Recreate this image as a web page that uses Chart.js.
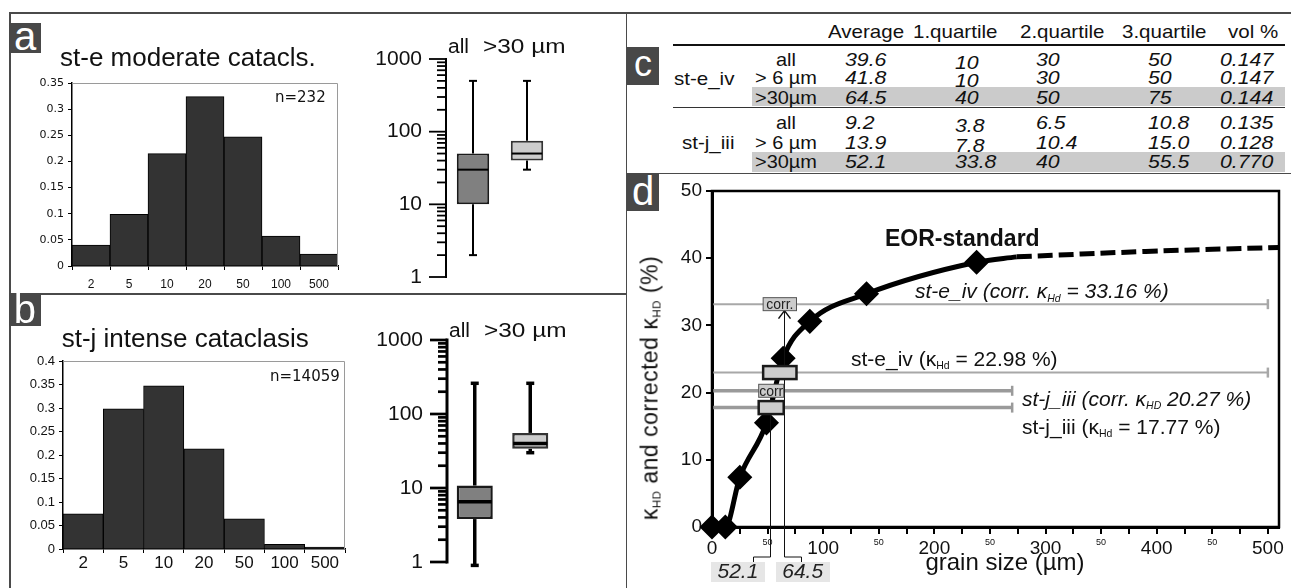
<!DOCTYPE html>
<html>
<head>
<meta charset="utf-8">
<script src="https://cdn.jsdelivr.net/npm/chart.js@4.4.1/dist/chart.umd.min.js"></script>
<style>
  body { margin: 0; background: #fff; }
  #fig { position: relative; width: 1291px; height: 588px; overflow: hidden;
         font-family: "Liberation Sans", Arial, sans-serif; color: #111; }
  #fig canvas { position: absolute; }
  .t { position: absolute; white-space: nowrap; }
  .r { position: absolute; }
  sub { font-size: 0.5em; vertical-align: baseline; position: relative; top: 0.3em; line-height: 0; }
</style>
</head>
<body>
<div id="fig"></div>
<script>
// ── Data ─────────────────────────────────────────────────────────────────────

// grain size classes (µm) and volume fractions
const BIN_LABELS = ['2', '5', '10', '20', '50', '100', '500'];
const FRAC_STE   = [0.040, 0.099, 0.215, 0.324, 0.247, 0.057, 0.023];
const FRAC_STJ   = [0.075, 0.298, 0.347, 0.213, 0.064, 0.010, 0.004];
const N_STE = 232;
const N_STJ = 14059;

// box plots: [min, q1, median, q3, max] in µm
const BOX_GROUPS = ['all', '>30 µm'];
const BOX_STE = [[2, 10, 30, 50, 500], [30, 40, 50, 75, 500]];
const BOX_STJ = [[0.9, 3.8, 6.5, 10.8, 260], [30, 33.8, 40, 55.5, 260]];
const LOG_DECADES = [1, 10, 100, 1000];
const LOG_MINOR   = [2, 3, 4, 5, 6, 7, 8, 9];

// statistics table
const TABLE_HEAD      = ['Average', '1.quartile', '2.quartile', '3.quartile', 'vol %'];
const TABLE_SAMPLES   = ['st-e_iv', 'st-j_iii'];
const TABLE_FRACTIONS = ['all', '> 6 µm', '>30µm'];
const TABLE_STE = [['39.6', '10', '30', '50', '0.147'],
                   ['41.8', '10', '30', '50', '0.147'],
                   ['64.5', '40', '50', '75', '0.144']];
const TABLE_STJ = [['9.2', '3.8', '6.5', '10.8', '0.135'],
                   ['13.9', '7.8', '10.4', '15.0', '0.128'],
                   ['52.1', '33.8', '40', '55.5', '0.770']];

// EOR standard curve: kappa_HD (%) against grain size (µm)
const EOR_X     = [0, 12, 25, 49, 64, 88, 139, 238, 274];
const EOR_Y     = [0, 0, 7.4, 15.5, 25.1, 30.6, 34.7, 39.4, 40.2];
const EOR_EXT_X = [274, 390, 510];
const EOR_EXT_Y = [40.2, 41.0, 41.6];

// kappa levels: st-e_iv corr., st-e_iv, st-j_iii corr., st-j_iii
const KAPPA     = [33.16, 22.98, 20.27, 17.77];
const KAPPA_END = [500, 500, 270, 270];
// >30 µm averages and grain boxes for st-e_iv, st-j_iii
const AVG30     = [64.5, 52.1];
const GRAIN_BOX = [[46, 76], [42, 64.5]];

const FONT = '"Liberation Sans", Arial, sans-serif';
const DEJAVU = '"DejaVu Sans", sans-serif';
Chart.defaults.font.family = FONT;
Chart.defaults.color = '#111';

const fig = document.getElementById('fig');

// ── Helpers ──────────────────────────────────────────────────────────────────

function rect(l, t, w, h, color) {
  const el = document.createElement('div');
  el.className = 'r';
  Object.assign(el.style, { left: l + 'px', top: t + 'px', width: w + 'px', height: h + 'px', background: color });
  fig.appendChild(el);
  return el;
}

// text placed by its baseline
function text(html, x, base, size, o = {}) {
  const el = document.createElement('div');
  el.className = 't';
  el.innerHTML = html;
  el.style.fontSize = size + 'px';
  el.style.lineHeight = size + 'px';
  el.style.top = (base - 0.847 * size) + 'px';
  el.style.left = x + 'px';
  if (o.font) el.style.fontFamily = o.font;
  if (o.italic) el.style.fontStyle = 'italic';
  if (o.bold) el.style.fontWeight = 'bold';
  if (o.color) el.style.color = o.color;
  if (o.ls) el.style.letterSpacing = o.ls + 'px';
  const align = o.align || 'left';
  const sx = o.sx || 1;
  const shift = align === 'center' ? '-50%' : align === 'right' ? '-100%' : '0';
  el.style.transformOrigin = align === 'center' ? '50% 50%' : align === 'right' ? '100% 50%' : '0 50%';
  el.style.transform = `translateX(${shift}) scaleX(${sx})`;
  fig.appendChild(el);
  return el;
}

function tag(letter, l, t, w, h, size, base) {
  rect(l, t, w, h, '#484848');
  text(letter, l + w / 2, base, size, { align: 'center', color: '#fff' });
}

function placeCanvas(area, m) {
  const c = document.createElement('canvas');
  const w = Math.round(area.r - area.l + m.l + m.r);
  const h = Math.round(area.b - area.t + m.t + m.b);
  c.width = w; c.height = h;
  c.style.left = (area.l - m.l) + 'px';
  c.style.top = (area.t - m.t) + 'px';
  c.style.width = w + 'px';
  c.style.height = h + 'px';
  fig.appendChild(c);
  return c;
}

const BASE_OPTS = {
  responsive: false,
  animation: false,
  devicePixelRatio: 1,
  events: [],
};

// ── Frame ────────────────────────────────────────────────────────────────────

rect(9, 12, 1282, 1.6, '#4a4a4a');
rect(9, 12, 1.6, 576, '#4a4a4a');
rect(625.5, 12, 1.6, 576, '#4a4a4a');
rect(9, 293, 617, 1.6, '#4a4a4a');
rect(626, 172.5, 665, 1.6, '#4a4a4a');

// ── Histograms (a, b) ────────────────────────────────────────────────────────

const histFrame = {
  id: 'histFrame',
  afterDraw(chart) {
    const { ctx, chartArea: a } = chart;
    ctx.save();
    ctx.strokeStyle = '#9a9a9a';
    ctx.lineWidth = 1;
    ctx.beginPath();
    ctx.moveTo(a.left, a.top + 0.5);
    ctx.lineTo(a.right - 0.5, a.top + 0.5);
    ctx.lineTo(a.right - 0.5, a.bottom);
    ctx.stroke();
    ctx.restore();
  }
};

function histogram(area, m, fracs, yMax, yFont, xFont, xPad) {
  return new Chart(placeCanvas(area, m), {
    type: 'bar',
    data: {
      labels: BIN_LABELS,
      datasets: [{
        data: fracs,
        backgroundColor: '#333333',
        borderColor: '#000',
        borderWidth: 1,
        barPercentage: 1,
        categoryPercentage: 1,
      }]
    },
    options: {
      ...BASE_OPTS,
      layout: { padding: { top: m.t, right: m.r, left: 0, bottom: 0 } },
      plugins: { legend: { display: false }, tooltip: { enabled: false } },
      scales: {
        x: {
          grid: { drawOnChartArea: false, offset: true, tickLength: 4, color: '#000' },
          border: { color: '#000', width: 1.5 },
          ticks: { font: xFont, color: '#111', padding: xPad, maxRotation: 0 },
          afterFit: s => { s.height = m.b; }
        },
        y: {
          min: 0, max: yMax,
          grid: { drawOnChartArea: false, tickLength: 4, color: '#000' },
          border: { color: '#000', width: 1.5 },
          ticks: { stepSize: 0.05, font: yFont, color: '#111', padding: 4, callback: v => String(+v.toFixed(2)) },
          afterFit: s => { s.width = m.l; }
        }
      }
    },
    plugins: [histFrame]
  });
}

histogram({ l: 71.7, t: 82.7, r: 337.3, b: 266 }, { l: 50, t: 14, r: 10, b: 26 },
  FRAC_STE, 0.35, { family: DEJAVU, size: 11 }, { size: 12 }, 7);
histogram({ l: 63.3, t: 361, r: 345, b: 549 }, { l: 52, t: 15, r: 10, b: 32 },
  FRAC_STJ, 0.4, { size: 13 }, { size: 17 }, 0);

// ── Box plots (a, b) ─────────────────────────────────────────────────────────

function whiskers(boxes, lw, cap, axisW) {
  return {
    id: 'whiskers',
    afterDatasetsDraw(chart) {
      const { ctx, scales: { y }, chartArea: a } = chart;
      const bars = chart.getDatasetMeta(0).data;
      const py = v => y.getPixelForValue(v);
      const seg = (x1, y1, x2, y2) => { ctx.beginPath(); ctx.moveTo(x1, y1); ctx.lineTo(x2, y2); ctx.stroke(); };
      ctx.save();
      ctx.strokeStyle = '#000';
      ctx.lineWidth = lw;
      boxes.forEach((b, i) => {
        const cx = bars[i].x, hw = bars[i].width / 2;
        seg(cx, py(b[0]), cx, py(b[1]));
        seg(cx, py(b[3]), cx, py(b[4]));
        seg(cx - cap, py(b[0]), cx + cap, py(b[0]));
        seg(cx - cap, py(b[4]), cx + cap, py(b[4]));
        seg(cx - hw + 1, py(b[2]), cx + hw - 1, py(b[2]));
      });
      // log axis: long decade ticks, short minor ticks
      ctx.lineWidth = axisW;
      const ax = a.left;
      seg(ax, py(1) + axisW / 2, ax, py(1000) - axisW / 2);
      ctx.lineWidth = axisW * 0.9;
      LOG_DECADES.forEach((d, k) => {
        seg(ax - 17, py(d), ax, py(d));
        if (k < LOG_DECADES.length - 1) LOG_MINOR.forEach(s => seg(ax - 9, py(d * s), ax, py(d * s)));
      });
      ctx.restore();
    }
  };
}

function boxplot(area, m, boxes, opt) {
  return new Chart(placeCanvas(area, m), {
    type: 'bar',
    data: {
      labels: BOX_GROUPS,
      datasets: [{
        data: boxes.map(b => [b[1], b[3]]),
        backgroundColor: ['#808080', '#cccccc'],
        borderColor: ['#1a1a1a', '#333333'],
        borderWidth: opt.bw,
        borderSkipped: false,
        barPercentage: opt.bp,
        categoryPercentage: 1,
      }]
    },
    options: {
      ...BASE_OPTS,
      layout: { padding: { top: m.t, right: m.r, left: 0, bottom: m.b } },
      plugins: { legend: { display: false }, tooltip: { enabled: false } },
      scales: {
        x: { display: false },
        y: {
          type: 'logarithmic', min: 1, max: 1000,
          grid: { display: false, drawTicks: false },
          border: { display: false },
          afterBuildTicks: s => { s.ticks = LOG_DECADES.map(v => ({ value: v })); },
          ticks: { autoSkip: false, font: { size: 21 }, color: '#111', padding: 24, callback: v => String(v) },
          afterFit: s => { s.width = m.l; }
        }
      }
    },
    plugins: [whiskers(boxes, opt.lw, opt.cap, opt.aw)]
  });
}

boxplot({ l: 446, t: 58.6, r: 554, b: 276.7 }, { l: 80, t: 40, r: 8, b: 40 }, BOX_STE,
  { bp: 0.6, bw: 2, lw: 2, cap: 4, aw: 2 });
boxplot({ l: 447.3, t: 340, r: 558.3, b: 561.7 }, { l: 80, t: 40, r: 8, b: 40 }, BOX_STJ,
  { bp: 0.65, bw: 2.5, lw: 3.5, cap: 4, aw: 3 });

// ── Table (c) ────────────────────────────────────────────────────────────────

rect(751.7, 87.3, 533, 18.7, '#cbcbcb');
rect(751.7, 151.7, 533, 20, '#cbcbcb');
rect(673, 44.3, 612, 1.6, '#111');
rect(673, 106.5, 612, 1.6, '#333');

const HEAD_X = [828, 913, 1020, 1122, 1228];
const COL_X  = [845, 955, 1036, 1148, 1220];
const ROW_BASE = [[66, 84, 104], [129, 149, 168]];

TABLE_HEAD.forEach((h, c) => text(h, HEAD_X[c], 38, 19, { sx: 1.08 }));
[TABLE_STE, TABLE_STJ].forEach((rows, g) => {
  rows.forEach((row, r) => {
    text(TABLE_FRACTIONS[r], 786, ROW_BASE[g][r], 19, { align: 'center', sx: 1.05 });
    row.forEach((v, c) => {
      const dy = (c === 1 && r < 2) ? 3 : 0;
      text(v, COL_X[c], ROW_BASE[g][r] + dy, 19, { italic: true, sx: 1.12 });
    });
  });
});
text(TABLE_SAMPLES[0], 674, 85, 19, { sx: 1.08 });
text(TABLE_SAMPLES[1], 681.7, 149, 19, { sx: 1.08 });

// ── EOR standard (d) ─────────────────────────────────────────────────────────

const dArea = { l: 712, t: 191, r: 1281, b: 527 };
const dM = { l: 52, t: 20, r: 12, b: 61 };
const BOX_HALF = 6.5;

const dMarks = {
  id: 'dMarks',
  afterDatasetsDraw(chart) {
    const { ctx, scales: { x, y }, chartArea: a } = chart;
    ctx.save();
    // plot frame
    ctx.strokeStyle = '#000';
    ctx.lineWidth = 2.5;
    ctx.strokeRect(a.left, a.top, a.right - a.left, a.bottom - a.top);

    // averages of the >30 µm fraction dropped to the axis
    const brY = a.bottom + 30;
    ctx.lineWidth = 1;
    ctx.strokeStyle = '#111';
    [[AVG30[0], 1, KAPPA[0]], [AVG30[1], -1, KAPPA[2]]].forEach(([v, dir, top]) => {
      const px = Math.round(x.getPixelForValue(v)) + 0.5;
      ctx.beginPath();
      ctx.moveTo(px, y.getPixelForValue(top) + BOX_HALF);
      ctx.lineTo(px, brY);
      ctx.lineTo(px + dir * 17, brY);
      ctx.lineTo(px + dir * 17, brY + 5);
      ctx.stroke();
    });
    // arrow head under the corr. box
    const ax = Math.round(x.getPixelForValue(AVG30[0])) + 0.5;
    const ay = y.getPixelForValue(KAPPA[0]) + BOX_HALF;
    ctx.lineWidth = 1.5;
    ctx.beginPath();
    ctx.moveTo(ax - 6, ay + 8); ctx.lineTo(ax, ay); ctx.lineTo(ax + 6, ay + 8);
    ctx.stroke();

    // grain boxes and their corrected counterparts
    const drawBox = (range, level, stroke, lw) => {
      const x0 = x.getPixelForValue(range[0]), x1 = x.getPixelForValue(range[1]);
      const yc = y.getPixelForValue(level);
      ctx.fillStyle = '#cccccc';
      ctx.fillRect(x0, yc - BOX_HALF, x1 - x0, BOX_HALF * 2);
      ctx.strokeStyle = stroke;
      ctx.lineWidth = lw;
      ctx.strokeRect(x0, yc - BOX_HALF, x1 - x0, BOX_HALF * 2);
    };
    drawBox(GRAIN_BOX[0], KAPPA[0], '#555', 1);
    drawBox(GRAIN_BOX[1], KAPPA[2], '#555', 1);
    drawBox(GRAIN_BOX[0], KAPPA[1], '#1a1a1a', 2.5);
    drawBox(GRAIN_BOX[1], KAPPA[3], '#1a1a1a', 2.5);
    ctx.restore();
  }
};

const kappaSets = KAPPA.map((v, i) => ({
  data: [{ x: 0, y: v }, { x: KAPPA_END[i], y: v }],
  borderColor: i < 2 ? '#a8a8a8' : '#9a9a9a',
  borderWidth: i < 2 ? 2 : 3.5,
  pointStyle: 'line',
  pointRotation: 90,
  pointRadius: [0, 5],
  pointBorderColor: i < 2 ? '#a8a8a8' : '#9a9a9a',
  pointBorderWidth: 2.5,
  order: 3,
}));

const dCanvas = placeCanvas(dArea, dM);
const dChart = new Chart(dCanvas, {
  type: 'line',
  data: {
    datasets: [
      {
        data: EOR_X.map((gx, i) => ({ x: gx, y: EOR_Y[i] })),
        borderColor: '#000',
        borderWidth: 5,
        cubicInterpolationMode: 'monotone',
        pointStyle: 'rectRot',
        pointRadius: EOR_X.map((_, i) => i < EOR_X.length - 1 ? 9 : 0),
        pointBackgroundColor: '#000',
        pointBorderColor: '#000',
        clip: false,
        order: 1,
      },
      {
        data: EOR_EXT_X.map((gx, i) => ({ x: gx, y: EOR_EXT_Y[i] })),
        borderColor: '#000',
        borderWidth: 5,
        borderDash: [15, 6],
        tension: 0.4,
        pointRadius: 0,
        order: 2,
      },
      ...kappaSets
    ]
  },
  options: {
    ...BASE_OPTS,
    layout: { padding: { top: dM.t, right: dM.r, left: 0, bottom: 0 } },
    plugins: { legend: { display: false }, tooltip: { enabled: false } },
    scales: {
      x: {
        type: 'linear', min: 0, max: 510,
        grid: { drawOnChartArea: false, tickLength: 7, color: '#000', lineWidth: 2 },
        border: { color: '#000', width: 3 },
        ticks: {
          stepSize: 25, includeBounds: false, autoSkip: false, maxRotation: 0, color: '#111',
          font: c => ({ size: (c.tick && c.tick.value % 100 !== 0) ? 9 : 19 }),
          callback: v => v % 100 === 0 ? String(v) : (v % 50 === 0 ? '50' : '')
        },
        afterFit: s => { s.height = dM.b; }
      },
      y: {
        min: 0, max: 50,
        grid: { drawOnChartArea: false, tickLength: 6, color: '#000', lineWidth: 2 },
        border: { color: '#000', width: 3 },
        ticks: { stepSize: 10, font: { size: 19 }, color: '#111', padding: 4 },
        afterFit: s => { s.width = dM.l; }
      }
    }
  },
  plugins: [dMarks]
});

// ── Text ─────────────────────────────────────────────────────────────────────

tag('a', 9, 23, 32, 30, 40, 50);
tag('b', 8.5, 293, 32.5, 33, 40, 323);
tag('c', 627, 47, 32, 38, 36, 76);
tag('d', 627, 173, 32, 38, 40, 205);

text('st-e moderate catacls.', 60, 66, 26);
text('st-j intense cataclasis', 61.7, 347, 26);
text('n=' + N_STE, 275, 103, 15, { font: DEJAVU });
text('n=' + N_STJ, 270, 382, 15, { font: DEJAVU });

[[53, 448], [337, 449]].forEach(([base, x]) => {
  text(BOX_GROUPS[0], x, base, 20, { sx: 1.05 });
  text('>30 µm', x + 35, base, 20, { sx: 1.22 });
});

// panel d labels, placed through the chart's scales (page coordinates)
const offX = parseFloat(dCanvas.style.left), offY = parseFloat(dCanvas.style.top);
const px = v => offX + dChart.scales.x.getPixelForValue(v);
const kp = KAPPA.map(v => offY + dChart.scales.y.getPixelForValue(v));

text('EOR-standard', 885, 246, 23, { bold: true });
text('st-e_iv (corr. κ<sub>Hd</sub> = ' + KAPPA[0].toFixed(2) + ' %)', 915, kp[0] - 6, 21, { italic: true });
text('st-e_iv (κ<sub>Hd</sub> = ' + KAPPA[1].toFixed(2) + ' %)', 851, kp[1] - 7, 21);
text('st-j_iii (corr. κ<sub>HD</sub> ' + KAPPA[2].toFixed(2) + ' %)', 1022, kp[2] + 15, 21, { italic: true });
text('st-j_iii (κ<sub>Hd</sub> = ' + KAPPA[3].toFixed(2) + ' %)', 1022, kp[3] + 26, 21);

const boxMid = r => (px(r[0]) + px(r[1])) / 2;
text('corr.', boxMid(GRAIN_BOX[0]), kp[0] + 5, 14, { align: 'center', color: '#222' });
text('corr', boxMid(GRAIN_BOX[1]), kp[2] + 5, 14, { align: 'center', color: '#222' });

[[AVG30[1], -32], [AVG30[0], 19]].forEach(([v, off]) => {
  const cx = px(v) + off;
  rect(cx - 27, 561.5, 54, 20, '#e6e6e6');
  text(v.toFixed(1), cx, 578, 21, { align: 'center', italic: true, color: '#222' });
});

const yTitle = document.createElement('div');
yTitle.className = 't';
yTitle.innerHTML = 'κ<sub>HD</sub> and corrected κ<sub>HD</sub> (%)';
Object.assign(yTitle.style, {
  fontSize: '23px', lineHeight: '23px', left: '650px', top: '388px',
  letterSpacing: '0.5px',
  transform: 'translate(-50%, -50%) rotate(-90deg)'
});
fig.appendChild(yTitle);

text('grain size (µm)', 1005, 570, 24, { align: 'center' });
</script>
</body>
</html>
